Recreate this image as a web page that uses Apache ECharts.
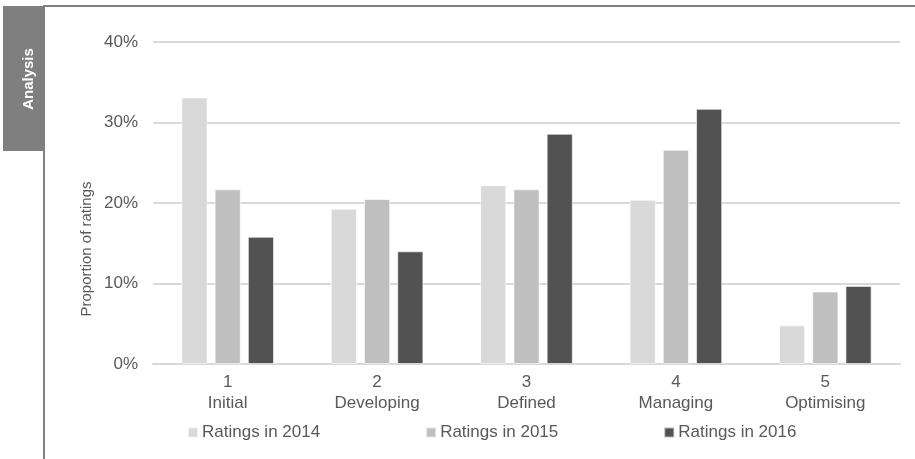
<!DOCTYPE html>
<html>
<head>
<meta charset="utf-8">
<script src="https://cdn.jsdelivr.net/npm/echarts@6/dist/echarts.min.js"></script>
<style>
html,body{margin:0;padding:0;background:#fff;}
#chart{width:915px;height:459px;}
</style>
</head>
<body>
<div id="chart"></div>
<script>
const categories = ['1\nInitial', '2\nDeveloping', '3\nDefined', '4\nManaging', '5\nOptimising'];
const seriesNames = ['Ratings in 2014', 'Ratings in 2015', 'Ratings in 2016'];
const ratings2014 = [33.1, 19.3, 22.2, 20.4, 4.8];
const ratings2015 = [21.7, 20.5, 21.7, 26.6, 9.0];
const ratings2016 = [15.8, 14.0, 28.6, 31.7, 9.7];
const yTicks = [0, 10, 20, 30, 40];
const yAxisTitle = 'Proportion of ratings';
const tabTitle = 'Analysis';

const FONT = '"Liberation Sans", Arial, sans-serif';
const TXT = '#595959';
const colors = ['#d9d9d9', '#bfbfbf', '#525252'];
const seriesData = [ratings2014, ratings2015, ratings2016];

const chart = echarts.init(document.getElementById('chart'), null, {renderer: 'canvas'});
chart.setOption({
  animation: false,
  backgroundColor: '#fff',
  textStyle: {fontFamily: FONT},
  grid: {left: 153, right: 15, top: 42, bottom: 95, containLabel: false},
  legend: {
    data: seriesNames,
    left: 187, top: 424, padding: 0,
    itemWidth: 10, itemHeight: 10, itemGap: 105,
    icon: 'rect',
    textStyle: {fontFamily: FONT, fontSize: 17, color: TXT, padding: [0, 0, 0, -1]}
  },
  xAxis: {
    type: 'category',
    data: categories,
    axisLine: {show: true, lineStyle: {color: '#d9d9d9', width: 2}},
    axisTick: {show: false},
    axisLabel: {fontFamily: FONT, fontSize: 17, color: TXT, lineHeight: 21, margin: 8, interval: 0}
  },
  yAxis: {
    type: 'value',
    min: yTicks[0], max: yTicks[yTicks.length - 1], interval: 10,
    axisLine: {show: false},
    axisTick: {show: false},
    axisLabel: {formatter: '{value}%', fontFamily: FONT, fontSize: 17, color: TXT, margin: 15},
    splitLine: {lineStyle: {color: '#d9d9d9', width: 2}}
  },
  series: seriesNames.map((n, i) => ({
    name: n,
    type: 'bar',
    data: seriesData[i],
    barGap: '27%',
    barCategoryGap: '38%',
    itemStyle: {color: colors[i], borderColor: 'rgba(255,255,255,0.6)', borderWidth: 1}
  })),
  graphic: [
    {type: 'rect', shape: {x: 3, y: 6, width: 41, height: 145}, style: {fill: '#7f7f7f'}},
    {type: 'rect', shape: {x: 44, y: 5, width: 871, height: 2}, style: {fill: '#7f7f7f'}},
    {type: 'rect', shape: {x: 43, y: 5, width: 2, height: 454}, style: {fill: '#7f7f7f'}},
    {type: 'text', x: 29, y: 79, rotation: Math.PI / 2,
      style: {text: tabTitle, fill: '#fff', font: 'bold 15px ' + FONT, textAlign: 'center', textVerticalAlign: 'middle'}},
    {type: 'text', x: 87, y: 249, rotation: Math.PI / 2,
      style: {text: yAxisTitle, fill: TXT, font: '15px ' + FONT, textAlign: 'center', textVerticalAlign: 'middle'}}
  ]
});
</script>
</body>
</html>
